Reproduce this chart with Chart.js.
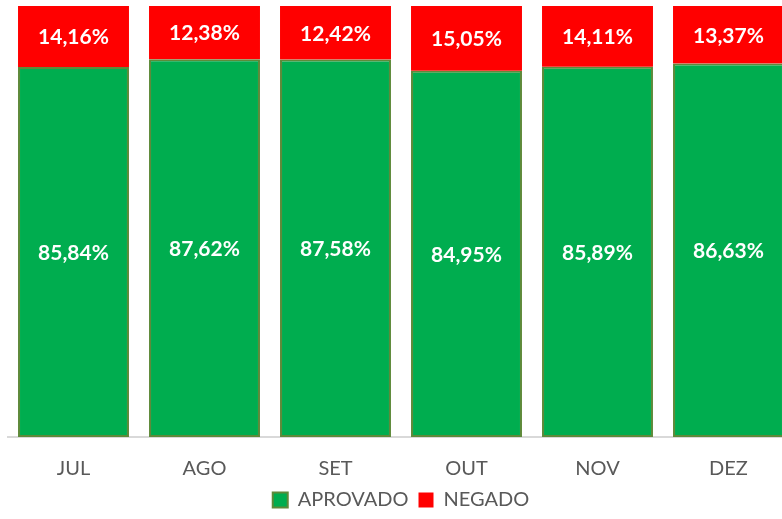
<!DOCTYPE html>
<html>
<head>
<meta charset="utf-8">
<script src="https://cdn.jsdelivr.net/npm/chart.js@4"></script>
<style>
html,body{margin:0;padding:0;background:#fff;overflow:hidden;}
#wrap{position:relative;width:800px;height:519px;}
</style>
</head>
<body>
<div id="wrap"><canvas id="c"></canvas></div>
<script>
const categories = ['JUL', 'AGO', 'SET', 'OUT', 'NOV', 'DEZ'];
const aprovado = [85.84, 87.62, 87.58, 84.95, 85.89, 86.63];
const negado = [14.16, 12.38, 12.42, 15.05, 14.11, 13.37];

const fmt = v => v.toFixed(2).replace('.', ',') + '%';

const labelPlugin = {
  id: 'segLabels',
  afterDatasetsDraw(chart) {
    const ctx = chart.ctx;
    ctx.save();
    ctx.fillStyle = '#ffffff';
    ctx.font = 'bold 21px Lato, "Open Sans", sans-serif';
    ctx.textAlign = 'center';
    ctx.textBaseline = 'middle';
    chart.data.datasets.forEach((ds, di) => {
      const meta = chart.getDatasetMeta(di);
      meta.data.forEach((bar, i) => {
        const top = Math.min(bar.y, bar.base), bot = Math.max(bar.y, bar.base);
        ctx.fillText(fmt(ds.data[i]), bar.x, (top + bot) / 2 + 1);
      });
    });
    ctx.restore();
  }
};

const legendShift = {
  id: 'legendShift',
  afterLayout(chart) {
    if (chart.legend) { chart.legend.top -= 13; chart.legend.bottom -= 13; }
  }
};

new Chart(document.getElementById('c'), {
  type: 'bar',
  data: {
    labels: categories,
    datasets: [
      { label: 'APROVADO', data: aprovado, backgroundColor: '#00AD4F', borderColor: '#5E8A3A', borderWidth: 2, borderSkipped: false },
      { label: 'NEGADO', data: negado, backgroundColor: '#FF0000', borderWidth: 0 }
    ]
  },
  options: {
    responsive: true,
    maintainAspectRatio: false,
    animation: false,
    layout: { padding: { left: 8, right: 6, top: 6, bottom: -14 } },
    datasets: { bar: { categoryPercentage: 1, barPercentage: 0.847 } },
    scales: {
      x: {
        stacked: true,
        grid: { display: false },
        border: { display: true, color: '#D9D9D9', width: 2 },
        ticks: { color: '#595959', font: { family: 'Lato, "Open Sans", sans-serif', size: 20 }, padding: 12 }
      },
      y: {
        stacked: true, display: false, min: 0, max: 100
      }
    },
    plugins: {
      legend: {
        position: 'bottom',
        labels: { color: '#595959', font: { family: 'Lato, "Open Sans", sans-serif', size: 20 }, boxWidth: 15, boxHeight: 15, padding: 10 }
      },
      tooltip: { enabled: false }
    }
  },
  plugins: [labelPlugin, legendShift]
});
</script>
</body>
</html>
